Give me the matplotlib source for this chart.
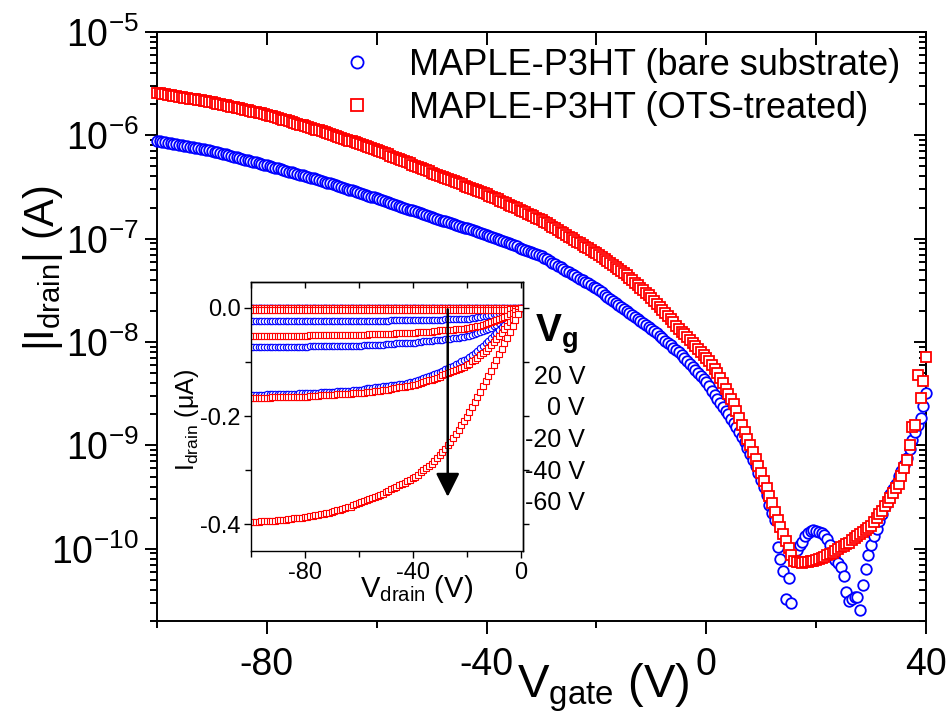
import numpy as np
import matplotlib
matplotlib.use('Agg')
import matplotlib.pyplot as plt
from matplotlib.ticker import MultipleLocator, LogLocator, NullFormatter, FuncFormatter, FormatStrFormatter
from matplotlib.patches import ArrowStyle

plt.rcParams['font.family'] = ['Liberation Sans', 'DejaVu Sans']
plt.rcParams['mathtext.fontset'] = 'custom'
plt.rcParams['mathtext.rm'] = 'Liberation Sans'
plt.rcParams['mathtext.it'] = 'Liberation Sans:italic'
plt.rcParams['mathtext.bf'] = 'Liberation Sans:bold'
plt.rcParams['axes.unicode_minus'] = False

# ---------------- main transfer curves: log10(|I_drain| / A), V_gate step 0.5 V ----------------
v_gate = np.arange(-100, 40.01, 0.5)
log_i_bare = [
    -6.050, -6.055, -6.060, -6.065, -6.070, -6.075, -6.080, -6.085, -6.090, -6.095,
    -6.100, -6.105, -6.110, -6.115, -6.120, -6.125, -6.130, -6.135, -6.140, -6.145,
    -6.150, -6.157, -6.164, -6.171, -6.178, -6.185, -6.192, -6.199, -6.206, -6.213,
    -6.220, -6.227, -6.234, -6.241, -6.248, -6.255, -6.262, -6.269, -6.276, -6.283,
    -6.290, -6.297, -6.305, -6.312, -6.320, -6.327, -6.335, -6.342, -6.350, -6.357,
    -6.365, -6.372, -6.380, -6.387, -6.395, -6.402, -6.410, -6.417, -6.425, -6.432,
    -6.440, -6.448, -6.457, -6.465, -6.474, -6.482, -6.491, -6.499, -6.508, -6.516,
    -6.525, -6.533, -6.542, -6.550, -6.559, -6.567, -6.576, -6.584, -6.593, -6.601,
    -6.610, -6.619, -6.628, -6.637, -6.646, -6.655, -6.664, -6.673, -6.682, -6.691,
    -6.700, -6.709, -6.718, -6.727, -6.736, -6.745, -6.754, -6.763, -6.772, -6.781,
    -6.790, -6.798, -6.807, -6.815, -6.824, -6.832, -6.841, -6.849, -6.858, -6.866,
    -6.875, -6.883, -6.892, -6.900, -6.909, -6.917, -6.926, -6.934, -6.943, -6.951,
    -6.960, -6.970, -6.981, -6.991, -7.002, -7.012, -7.023, -7.033, -7.044, -7.054,
    -7.065, -7.075, -7.086, -7.096, -7.107, -7.117, -7.128, -7.138, -7.149, -7.159,
    -7.170, -7.185, -7.201, -7.216, -7.232, -7.247, -7.263, -7.278, -7.294, -7.309,
    -7.325, -7.340, -7.356, -7.371, -7.387, -7.402, -7.418, -7.433, -7.449, -7.464,
    -7.480, -7.500, -7.520, -7.540, -7.560, -7.580, -7.600, -7.620, -7.640, -7.660,
    -7.680, -7.699, -7.718, -7.737, -7.756, -7.775, -7.794, -7.813, -7.832, -7.851,
    -7.870, -7.893, -7.916, -7.939, -7.962, -7.985, -8.008, -8.031, -8.054, -8.077,
    -8.100, -8.129, -8.158, -8.187, -8.216, -8.245, -8.274, -8.303, -8.332, -8.361,
    -8.390, -8.430, -8.470, -8.510, -8.550, -8.590, -8.630, -8.665, -8.700, -8.740,
    -8.780, -8.825, -8.870, -8.920, -8.970, -9.025, -9.080, -9.140, -9.200, -9.265,
    -9.330, -9.400, -9.480, -9.580, -9.650, -9.720, -9.980, -10.100, -10.220, -10.490,
    -10.280, -10.520, -10.120, -10.010, -9.960, -9.930, -9.880, -9.850, -9.830, -9.820,
    -9.830, -9.840, -9.850, -9.870, -9.910, -9.960, -10.040, -10.110, -10.140, -10.180,
    -10.260, -10.420, -10.510, -10.490, -10.470, -10.470, -10.590, -10.350, -10.200, -10.060,
    -9.960, -9.880, -9.810, -9.730, -9.660, -9.590, -9.530, -9.470, -9.420, -9.370,
    -9.300, -9.250, -9.190, -9.120, -9.030, -8.950, -8.870, -8.800, -8.730, -8.620,
    -8.490]
log_i_ots = [
    -5.590, -5.595, -5.599, -5.604, -5.608, -5.613, -5.617, -5.622, -5.626, -5.631,
    -5.635, -5.640, -5.644, -5.649, -5.653, -5.658, -5.662, -5.667, -5.671, -5.676,
    -5.680, -5.686, -5.692, -5.698, -5.704, -5.710, -5.716, -5.722, -5.728, -5.734,
    -5.740, -5.746, -5.752, -5.758, -5.764, -5.770, -5.776, -5.782, -5.788, -5.794,
    -5.800, -5.808, -5.816, -5.824, -5.832, -5.840, -5.848, -5.856, -5.864, -5.872,
    -5.880, -5.888, -5.896, -5.904, -5.912, -5.920, -5.928, -5.936, -5.944, -5.952,
    -5.960, -5.969, -5.978, -5.987, -5.996, -6.005, -6.014, -6.023, -6.032, -6.041,
    -6.050, -6.059, -6.068, -6.077, -6.086, -6.095, -6.104, -6.113, -6.122, -6.131,
    -6.140, -6.151, -6.162, -6.173, -6.184, -6.195, -6.206, -6.217, -6.228, -6.239,
    -6.250, -6.261, -6.272, -6.283, -6.294, -6.305, -6.316, -6.327, -6.338, -6.349,
    -6.360, -6.370, -6.381, -6.391, -6.402, -6.412, -6.423, -6.433, -6.444, -6.454,
    -6.465, -6.475, -6.486, -6.496, -6.507, -6.517, -6.528, -6.538, -6.549, -6.559,
    -6.570, -6.582, -6.595, -6.607, -6.620, -6.632, -6.645, -6.657, -6.670, -6.682,
    -6.695, -6.707, -6.720, -6.732, -6.745, -6.757, -6.770, -6.782, -6.795, -6.807,
    -6.820, -6.836, -6.852, -6.868, -6.884, -6.900, -6.916, -6.932, -6.948, -6.964,
    -6.980, -6.996, -7.012, -7.028, -7.044, -7.060, -7.076, -7.092, -7.108, -7.124,
    -7.140, -7.159, -7.178, -7.197, -7.216, -7.235, -7.254, -7.273, -7.292, -7.311,
    -7.330, -7.354, -7.378, -7.402, -7.426, -7.450, -7.474, -7.498, -7.522, -7.546,
    -7.570, -7.600, -7.630, -7.660, -7.690, -7.720, -7.750, -7.780, -7.810, -7.840,
    -7.870, -7.898, -7.926, -7.954, -7.982, -8.010, -8.038, -8.066, -8.094, -8.122,
    -8.150, -8.185, -8.220, -8.260, -8.300, -8.350, -8.400, -8.450, -8.500, -8.550,
    -8.600, -8.665, -8.730, -8.800, -8.870, -8.935, -9.000, -9.065, -9.130, -9.200,
    -9.270, -9.340, -9.410, -9.485, -9.560, -9.640, -9.720, -9.790, -9.860, -9.925,
    -9.990, -10.060, -10.120, -10.130, -10.130, -10.135, -10.130, -10.125, -10.120, -10.115,
    -10.110, -10.100, -10.090, -10.080, -10.060, -10.050, -10.040, -10.020, -10.000, -9.985,
    -9.970, -9.955, -9.940, -9.920, -9.900, -9.880, -9.860, -9.840, -9.820, -9.800,
    -9.780, -9.740, -9.700, -9.665, -9.630, -9.590, -9.550, -9.505, -9.460, -9.415,
    -9.370, -9.300, -9.220, -9.140, -9.000, -8.820, -8.800, -8.320, -8.540, -8.380,
    -8.140]
legend_labels = ['MAPLE-P3HT (bare substrate)', 'MAPLE-P3HT (OTS-treated)']

# ---------------- inset output curves: I_drain in uA, V_drain step 1 V ----------------
v_drain = np.arange(-100, 1, 1)
bare_vg20 = [
    0.000, 0.000, 0.000, 0.000, 0.000, 0.000, 0.000, 0.000, 0.000, 0.000,
    0.000, 0.000, 0.000, 0.000, 0.000, 0.000, 0.000, 0.000, 0.000, 0.000,
    0.000, 0.000, 0.000, 0.000, 0.000, 0.000, 0.000, 0.000, 0.000, 0.000,
    0.000, 0.000, 0.000, 0.000, 0.000, 0.000, 0.000, 0.000, 0.000, 0.000,
    0.000, 0.000, 0.000, 0.000, 0.000, 0.000, 0.000, 0.000, 0.000, 0.000,
    0.000, 0.000, 0.000, 0.000, 0.000, 0.000, 0.000, 0.000, 0.000, 0.000,
    0.000, 0.000, 0.000, 0.000, 0.000, 0.000, 0.000, 0.000, 0.000, 0.000,
    0.000, 0.000, 0.000, 0.000, 0.000, 0.000, 0.000, 0.000, 0.000, 0.000,
    0.000, 0.000, 0.000, 0.000, 0.000, 0.000, 0.000, 0.000, 0.000, 0.000,
    0.000, 0.000, 0.000, 0.000, 0.000, 0.000, 0.000, 0.000, 0.000, 0.000,
    0.000]
bare_vg0 = [
    0.000, 0.000, 0.000, 0.000, 0.000, 0.000, 0.000, 0.000, 0.000, 0.000,
    0.000, 0.000, 0.000, 0.000, 0.000, 0.000, 0.000, 0.000, 0.000, 0.000,
    0.000, 0.000, 0.000, 0.000, 0.000, 0.000, 0.000, 0.000, 0.000, 0.000,
    0.000, 0.000, 0.000, 0.000, 0.000, 0.000, 0.000, 0.000, 0.000, 0.000,
    0.000, 0.000, 0.000, 0.000, 0.000, 0.000, 0.000, 0.000, 0.000, 0.000,
    0.000, 0.000, 0.000, 0.000, 0.000, 0.000, 0.000, 0.000, 0.000, 0.000,
    0.000, 0.000, 0.000, 0.000, 0.000, 0.000, 0.000, 0.000, 0.000, 0.000,
    0.000, 0.000, 0.000, 0.000, 0.000, 0.000, 0.000, 0.000, 0.000, 0.000,
    0.000, 0.000, 0.000, 0.000, 0.000, 0.000, 0.000, 0.000, 0.000, 0.000,
    0.000, 0.000, 0.000, 0.000, 0.000, 0.000, 0.000, 0.000, 0.000, 0.000,
    0.000]
bare_vgm20 = [
    -0.024, -0.024, -0.024, -0.024, -0.024, -0.024, -0.024, -0.024, -0.024, -0.024,
    -0.024, -0.024, -0.024, -0.024, -0.024, -0.024, -0.024, -0.024, -0.024, -0.024,
    -0.024, -0.024, -0.024, -0.024, -0.024, -0.024, -0.024, -0.024, -0.024, -0.024,
    -0.024, -0.024, -0.024, -0.024, -0.024, -0.024, -0.024, -0.024, -0.024, -0.024,
    -0.024, -0.024, -0.024, -0.024, -0.024, -0.024, -0.024, -0.024, -0.024, -0.024,
    -0.024, -0.024, -0.023, -0.023, -0.023, -0.023, -0.023, -0.023, -0.023, -0.023,
    -0.023, -0.023, -0.023, -0.023, -0.022, -0.022, -0.022, -0.022, -0.022, -0.022,
    -0.022, -0.022, -0.021, -0.021, -0.021, -0.021, -0.021, -0.021, -0.020, -0.020,
    -0.020, -0.020, -0.019, -0.019, -0.018, -0.017, -0.016, -0.015, -0.014, -0.013,
    -0.012, -0.011, -0.010, -0.009, -0.008, -0.007, -0.005, -0.004, -0.003, -0.002,
    0.000]
bare_vgm40 = [
    -0.073, -0.073, -0.073, -0.073, -0.073, -0.073, -0.073, -0.073, -0.073, -0.073,
    -0.072, -0.072, -0.072, -0.072, -0.072, -0.072, -0.072, -0.072, -0.072, -0.072,
    -0.072, -0.072, -0.071, -0.071, -0.071, -0.071, -0.071, -0.071, -0.071, -0.071,
    -0.071, -0.071, -0.070, -0.070, -0.070, -0.070, -0.070, -0.070, -0.070, -0.070,
    -0.070, -0.070, -0.069, -0.069, -0.069, -0.069, -0.068, -0.068, -0.068, -0.068,
    -0.067, -0.067, -0.067, -0.067, -0.066, -0.066, -0.066, -0.066, -0.065, -0.065,
    -0.065, -0.065, -0.064, -0.063, -0.062, -0.062, -0.061, -0.061, -0.060, -0.060,
    -0.059, -0.059, -0.058, -0.058, -0.057, -0.056, -0.055, -0.055, -0.054, -0.054,
    -0.053, -0.052, -0.050, -0.049, -0.047, -0.045, -0.043, -0.041, -0.039, -0.037,
    -0.034, -0.031, -0.028, -0.025, -0.022, -0.019, -0.015, -0.012, -0.008, -0.004,
    0.000]
bare_vgm60 = [
    -0.161, -0.161, -0.161, -0.161, -0.161, -0.161, -0.160, -0.160, -0.160, -0.160,
    -0.160, -0.160, -0.159, -0.159, -0.159, -0.159, -0.159, -0.159, -0.158, -0.158,
    -0.158, -0.158, -0.157, -0.157, -0.157, -0.157, -0.156, -0.156, -0.156, -0.156,
    -0.155, -0.155, -0.154, -0.154, -0.154, -0.154, -0.153, -0.153, -0.152, -0.152,
    -0.151, -0.151, -0.150, -0.149, -0.148, -0.148, -0.147, -0.147, -0.146, -0.145,
    -0.144, -0.144, -0.143, -0.143, -0.142, -0.141, -0.140, -0.140, -0.139, -0.138,
    -0.137, -0.136, -0.134, -0.132, -0.130, -0.128, -0.126, -0.124, -0.122, -0.120,
    -0.118, -0.116, -0.114, -0.112, -0.109, -0.107, -0.104, -0.102, -0.099, -0.097,
    -0.094, -0.091, -0.087, -0.083, -0.079, -0.075, -0.070, -0.066, -0.061, -0.056,
    -0.051, -0.046, -0.041, -0.036, -0.031, -0.026, -0.021, -0.016, -0.010, -0.005,
    0.000]
ots_vg20 = [
    -0.001, -0.001, -0.001, -0.001, -0.001, -0.001, -0.001, -0.001, -0.001, -0.001,
    -0.001, -0.001, -0.001, -0.001, -0.001, -0.001, -0.001, -0.001, -0.001, -0.001,
    -0.001, -0.001, -0.001, -0.001, -0.001, -0.001, -0.001, -0.001, -0.001, -0.001,
    -0.001, -0.001, -0.001, -0.001, -0.001, -0.001, -0.001, -0.001, -0.001, -0.001,
    -0.001, -0.001, -0.001, -0.001, -0.001, -0.001, -0.001, -0.001, -0.001, -0.001,
    -0.001, -0.001, -0.001, -0.001, -0.001, -0.001, -0.001, -0.001, -0.001, -0.001,
    -0.001, -0.001, -0.001, -0.001, -0.001, -0.001, -0.001, -0.001, -0.001, -0.001,
    -0.001, -0.001, -0.001, -0.001, -0.001, -0.001, -0.001, -0.001, -0.001, -0.001,
    -0.001, -0.001, -0.001, -0.001, -0.001, -0.001, -0.001, -0.001, -0.001, -0.001,
    -0.001, -0.001, -0.001, -0.001, -0.001, -0.001, -0.001, -0.001, -0.001, -0.001,
    0.000]
ots_vg0 = [
    -0.005, -0.005, -0.005, -0.005, -0.005, -0.005, -0.005, -0.005, -0.005, -0.005,
    -0.005, -0.005, -0.005, -0.005, -0.005, -0.005, -0.005, -0.005, -0.005, -0.005,
    -0.005, -0.005, -0.005, -0.005, -0.005, -0.005, -0.005, -0.005, -0.005, -0.005,
    -0.005, -0.005, -0.005, -0.005, -0.005, -0.005, -0.005, -0.005, -0.005, -0.005,
    -0.005, -0.005, -0.005, -0.005, -0.005, -0.005, -0.005, -0.005, -0.005, -0.005,
    -0.005, -0.005, -0.005, -0.005, -0.005, -0.005, -0.005, -0.005, -0.005, -0.005,
    -0.005, -0.005, -0.005, -0.005, -0.005, -0.005, -0.005, -0.005, -0.005, -0.005,
    -0.005, -0.005, -0.005, -0.005, -0.005, -0.005, -0.005, -0.005, -0.005, -0.005,
    -0.005, -0.005, -0.005, -0.005, -0.005, -0.005, -0.005, -0.005, -0.005, -0.005,
    -0.005, -0.005, -0.005, -0.005, -0.004, -0.004, -0.003, -0.003, -0.002, -0.001,
    0.000]
ots_vgm20 = [
    -0.052, -0.052, -0.052, -0.052, -0.052, -0.052, -0.052, -0.052, -0.052, -0.052,
    -0.052, -0.052, -0.052, -0.052, -0.052, -0.052, -0.052, -0.052, -0.052, -0.052,
    -0.052, -0.052, -0.051, -0.051, -0.051, -0.051, -0.051, -0.051, -0.051, -0.051,
    -0.051, -0.051, -0.051, -0.051, -0.050, -0.050, -0.050, -0.050, -0.050, -0.050,
    -0.050, -0.050, -0.050, -0.050, -0.049, -0.049, -0.049, -0.049, -0.048, -0.048,
    -0.048, -0.048, -0.048, -0.048, -0.047, -0.047, -0.047, -0.047, -0.046, -0.046,
    -0.046, -0.046, -0.045, -0.045, -0.044, -0.044, -0.044, -0.044, -0.043, -0.043,
    -0.042, -0.042, -0.041, -0.041, -0.041, -0.041, -0.040, -0.040, -0.039, -0.039,
    -0.038, -0.037, -0.036, -0.035, -0.034, -0.033, -0.031, -0.030, -0.028, -0.027,
    -0.025, -0.023, -0.021, -0.019, -0.017, -0.015, -0.012, -0.009, -0.006, -0.003,
    0.000]
ots_vgm40 = [
    -0.166, -0.166, -0.166, -0.166, -0.166, -0.166, -0.166, -0.166, -0.165, -0.165,
    -0.165, -0.165, -0.165, -0.165, -0.165, -0.165, -0.164, -0.164, -0.164, -0.164,
    -0.164, -0.164, -0.163, -0.163, -0.163, -0.163, -0.162, -0.162, -0.162, -0.162,
    -0.161, -0.161, -0.160, -0.160, -0.160, -0.160, -0.159, -0.159, -0.158, -0.158,
    -0.158, -0.158, -0.157, -0.156, -0.155, -0.155, -0.154, -0.154, -0.153, -0.152,
    -0.151, -0.151, -0.150, -0.149, -0.148, -0.147, -0.146, -0.146, -0.145, -0.144,
    -0.143, -0.142, -0.140, -0.139, -0.137, -0.136, -0.134, -0.133, -0.131, -0.129,
    -0.127, -0.125, -0.123, -0.121, -0.119, -0.117, -0.115, -0.113, -0.111, -0.109,
    -0.106, -0.103, -0.099, -0.096, -0.092, -0.088, -0.083, -0.079, -0.074, -0.069,
    -0.063, -0.058, -0.052, -0.046, -0.039, -0.033, -0.026, -0.020, -0.013, -0.007,
    0.000]
ots_vgm60 = [
    -0.395, -0.395, -0.395, -0.395, -0.394, -0.394, -0.394, -0.394, -0.393, -0.393,
    -0.392, -0.392, -0.391, -0.391, -0.390, -0.390, -0.389, -0.389, -0.388, -0.388,
    -0.387, -0.386, -0.385, -0.384, -0.383, -0.382, -0.381, -0.380, -0.379, -0.378,
    -0.377, -0.376, -0.374, -0.373, -0.371, -0.370, -0.368, -0.367, -0.365, -0.363,
    -0.361, -0.359, -0.357, -0.355, -0.353, -0.351, -0.349, -0.347, -0.345, -0.343,
    -0.340, -0.338, -0.335, -0.333, -0.330, -0.328, -0.325, -0.323, -0.320, -0.318,
    -0.315, -0.312, -0.308, -0.304, -0.300, -0.296, -0.292, -0.288, -0.283, -0.278,
    -0.272, -0.266, -0.260, -0.254, -0.247, -0.240, -0.233, -0.225, -0.217, -0.209,
    -0.201, -0.192, -0.183, -0.174, -0.164, -0.155, -0.145, -0.136, -0.126, -0.116,
    -0.106, -0.096, -0.086, -0.076, -0.065, -0.055, -0.044, -0.033, -0.022, -0.011,
    0.000]
vg_labels = ['20 V', '0 V', '-20 V', '-40 V', '-60 V']
arrow_vd = -27
arrow_from = -0.003
arrow_to = -0.349

BLUE = '#0000ff'
RED = '#ff0000'

fig = plt.figure(figsize=(9.46, 7.28), dpi=100)
W, H = 946.0, 728.0

# ---------------- main axes ----------------
ax = fig.add_axes([157 / W, (H - 621) / H, (926 - 157) / W, (621 - 32) / H])
ax.plot(v_gate, 10 ** np.array(log_i_bare), 'o', ms=7.6, mfc='white', mec=BLUE,
        mew=1.3, clip_on=False, zorder=3, label=legend_labels[0])
ax.plot(v_gate, 10 ** np.array(log_i_ots), 's', ms=7.3, mfc='white', mec=RED,
        mew=1.3, clip_on=False, zorder=3, label=legend_labels[1])
ax.set_yscale('log')
ax.set_xlim(-100, 40)
ax.set_ylim(2e-11, 1e-5)

ax.xaxis.set_major_locator(MultipleLocator(40))
ax.xaxis.set_minor_locator(MultipleLocator(20))
ax.yaxis.set_major_locator(LogLocator(base=10, numticks=20))
ax.yaxis.set_minor_locator(LogLocator(base=10, subs=np.arange(2, 10), numticks=20))
ax.yaxis.set_minor_formatter(NullFormatter())
ax.yaxis.set_major_formatter(FuncFormatter(
    lambda v, p: r'$\mathregular{10^{%d}}$' % int(round(np.log10(v)))))
ax.tick_params(which='both', direction='out', width=1.4, labelsize=27,
               top=False, right=False)
ax.tick_params(which='major', length=9)
ax.tick_params(which='minor', length=5)
ax.tick_params(axis='x', which='major', pad=10)
ax.tick_params(axis='y', which='major', pad=4)
for s in ax.spines.values():
    s.set_linewidth(1.4)

sec_x = ax.secondary_xaxis('top')
sec_x.xaxis.set_major_locator(MultipleLocator(40))
sec_x.xaxis.set_minor_locator(MultipleLocator(20))
sec_x.tick_params(which='both', direction='in', width=1.4, labeltop=False)
sec_x.tick_params(which='major', length=9)
sec_x.tick_params(which='minor', length=9)
sec_x.spines['top'].set_linewidth(1.4)

sec_y = ax.secondary_yaxis('right')
sec_y.yaxis.set_major_locator(LogLocator(base=10, numticks=20))
sec_y.yaxis.set_minor_locator(LogLocator(base=10, subs=np.arange(2, 10), numticks=20))
sec_y.yaxis.set_minor_formatter(NullFormatter())
sec_y.tick_params(which='both', direction='in', width=1.4, labelright=False)
sec_y.tick_params(which='major', length=9)
sec_y.tick_params(which='minor', length=5)
sec_y.spines['right'].set_linewidth(1.4)

leg = ax.legend(loc='upper left', bbox_to_anchor=(339 / W, 1 - 48 / H),
                bbox_transform=fig.transFigure, frameon=False, fontsize=26,
                handlelength=1.0, handletextpad=0.95, borderpad=0.0,
                borderaxespad=0.0, labelspacing=0.22, numpoints=1,
                markerscale=1.15)

fig.text(603 / W, 1 - 698 / H, r'$\mathregular{V_{gate}\ (V)}$', fontsize=34,
         ha='center', va='baseline')
fig.text(43 / W, 1 - 268 / H, r'$\mathregular{|I_{drain}|\ (A)}$', fontsize=30,
         rotation=90, ha='center', va='center')

# ---------------- inset ----------------
axi = fig.add_axes([250.7 / W, (H - 551) / H, (523.3 - 250.7) / W, (551 - 281.7) / H],
                   facecolor='white')
for curve in [bare_vg20, bare_vg0, bare_vgm20, bare_vgm40, bare_vgm60]:
    axi.plot(v_drain, curve, 'o', ms=4.6, mfc='white', mec=BLUE, mew=0.8)
for curve in [ots_vg20, ots_vg0, ots_vgm20, ots_vgm40, ots_vgm60]:
    axi.plot(v_drain, curve, 's', ms=4.4, mfc='white', mec=RED, mew=0.8)
axi.set_xlim(-100, 1)
axi.set_ylim(-0.449, 0.048)
axi.xaxis.set_major_locator(MultipleLocator(40))
axi.xaxis.set_minor_locator(MultipleLocator(20))
axi.yaxis.set_major_locator(MultipleLocator(0.2))
axi.yaxis.set_minor_locator(MultipleLocator(0.1))
axi.yaxis.set_major_formatter(FormatStrFormatter('%.1f'))
axi.tick_params(which='both', direction='out', width=1.0, labelsize=17)
axi.tick_params(which='major', length=5)
axi.tick_params(which='minor', length=4)
axi.tick_params(axis='y', pad=2)
axi.tick_params(axis='x', pad=3)
for s in axi.spines.values():
    s.set_linewidth(1.0)
isx = axi.secondary_xaxis('top')
isx.xaxis.set_major_locator(MultipleLocator(20))
isx.tick_params(direction='in', length=4, width=1.0, labeltop=False)
isx.spines['top'].set_linewidth(1.0)
isy = axi.secondary_yaxis('right')
isy.yaxis.set_major_locator(MultipleLocator(0.1))
isy.tick_params(direction='out', length=4, width=1.0, labelright=False)
isy.spines['right'].set_linewidth(1.0)

axi.annotate('', xy=(arrow_vd, arrow_to), xytext=(arrow_vd, arrow_from),
             arrowprops=dict(arrowstyle=ArrowStyle('-|>', head_length=0.6, head_width=0.3),
                             mutation_scale=24, color='black', lw=1.8,
                             shrinkA=0, shrinkB=0), zorder=10)

fig.text(417 / W, 1 - 597 / H, r'$\mathregular{V_{drain}\ (V)}$', fontsize=21,
         ha='center', va='baseline')
fig.text(187 / W, 1 - 420 / H, r'$\mathregular{I_{drain}\ (\mu A)}$', fontsize=18,
         rotation=90, ha='center', va='center')

fig.text(535 / W, 1 - 342 / H, r'$\mathbf{V_g}$', fontsize=28, ha='left', va='baseline')
for k, lab in enumerate(vg_labels):
    fig.text(585 / W, 1 - (376.7 + 31.65 * k) / H, lab, fontsize=18,
             ha='right', va='center')

fig.savefig('out.png', dpi=100)
